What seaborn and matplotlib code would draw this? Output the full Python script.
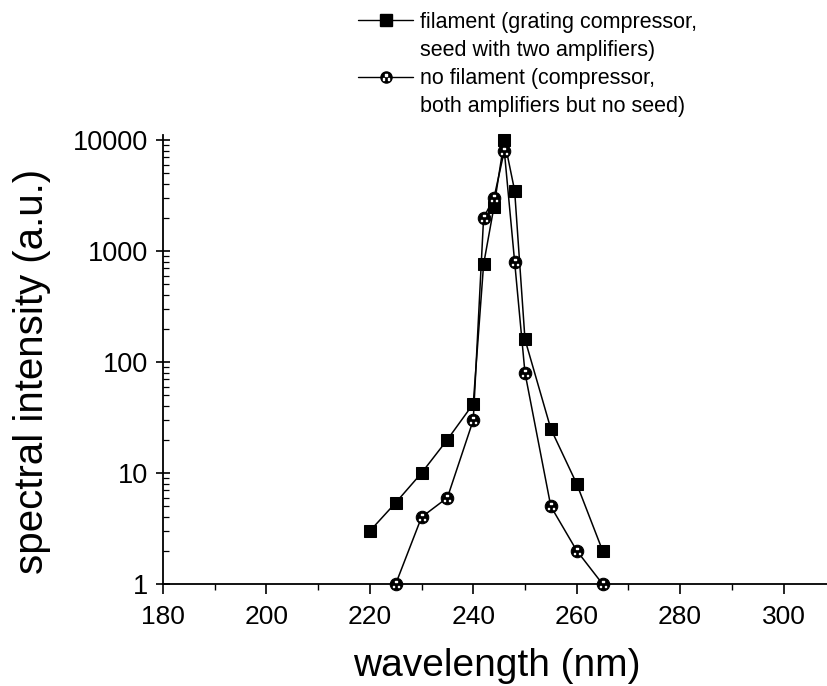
import matplotlib
matplotlib.use("Agg")
import matplotlib.pyplot as plt
import seaborn as sns
from matplotlib.lines import Line2D
from matplotlib.ticker import LogLocator, MultipleLocator, FuncFormatter, NullFormatter

# ---- data ----
wl_fil = [220, 225, 230, 235, 240, 242, 244, 246, 248, 250, 255, 260, 265]
I_fil = [3, 5.4, 10, 20, 42, 760, 2500, 10000, 3500, 160, 25, 8, 2]
wl_nof = [225, 230, 235, 240, 242, 244, 246, 248, 250, 255, 260, 265]
I_nof = [1, 4, 6, 30, 2000, 3000, 8000, 800, 80, 5, 2, 1]

label_fil = ["filament (grating compressor,", "seed with two amplifiers)"]
label_nof = ["no filament (compressor,", "both amplifiers but no seed)"]
x_ticks = [180, 200, 220, 240, 260, 280, 300]
y_ticks = [1, 10, 100, 1000, 10000]

sns.set_style("ticks")
plt.rcParams["font.family"] = ["Liberation Sans", "DejaVu Sans"]
plt.rcParams["text.color"] = "black"

fig = plt.figure(figsize=(8.28, 6.86), dpi=100)
ax = fig.add_axes([163 / 828, 102 / 686, 665 / 828, 449 / 686])

sns.lineplot(x=wl_fil, y=I_fil, ax=ax, color="black", lw=1.1, marker="s",
             markersize=9, markerfacecolor="black", markeredgecolor="black",
             clip_on=False, legend=False, zorder=3)
sns.lineplot(x=wl_nof, y=I_nof, ax=ax, color="black", lw=1.1, marker="o",
             markersize=9, markerfacecolor="black", markeredgecolor="black",
             clip_on=False, legend=False, zorder=3)
ax.plot(wl_nof, I_nof, ls="none", marker=r"$\therefore$", color="white",
        markersize=5, clip_on=False, zorder=4)

ax.set_yscale("log")
ax.set_ylim(1, 11100)
ax.set_xlim(180, 308.6)
ax.set_xticks(x_ticks)
ax.xaxis.set_minor_locator(MultipleLocator(10))
ax.set_yticks(y_ticks)
ax.yaxis.set_major_formatter(FuncFormatter(lambda v, p: f"{v:g}"))
ax.yaxis.set_minor_locator(LogLocator(base=10, subs=range(2, 10)))
ax.yaxis.set_minor_formatter(NullFormatter())

sns.despine(ax=ax)
for s in ("left", "bottom"):
    ax.spines[s].set_linewidth(1.3)
    ax.spines[s].set_color("black")

ax.tick_params(axis="x", which="major", direction="out", length=7, width=1.2,
               pad=8, labelsize=19, color="black", labelcolor="black")
ax.tick_params(axis="x", which="minor", direction="out", length=4, width=1.0, color="black")
ax.tick_params(axis="y", which="major", direction="inout", length=10, width=1.2,
               pad=6, labelsize=19.5, color="black", labelcolor="black")
ax.tick_params(axis="y", which="minor", direction="in", length=4, width=0.9, color="black")

ax.set_xlabel("wavelength (nm)", fontsize=28, color="black")
ax.set_ylabel("spectral intensity (a.u.)", fontsize=29, color="black")
ax.xaxis.set_label_coords((497 - 163) / 665, (584 - 648) / 449)
ax.yaxis.set_label_coords((51 - 163) / 665, 0.473)

h_fil = Line2D([], [], color="black", lw=1.0, marker="s", markersize=8,
               markerfacecolor="black", markeredgecolor="black")
h_nof_c = Line2D([], [], color="black", lw=1.0, marker="o", markersize=8,
                 markerfacecolor="black", markeredgecolor="black")
h_nof_d = Line2D([], [], ls="none", marker=r"$\therefore$", color="white", markersize=4.5)
blank = Line2D([], [], color="none", lw=0)

fig.legend([h_fil, blank, (h_nof_c, h_nof_d), blank],
           [label_fil[0], label_fil[1], label_nof[0], label_nof[1]],
           loc="upper left", bbox_to_anchor=(358 / 828, 1 - 12 / 686),
           frameon=False, fontsize=15.5, handlelength=2.56, handletextpad=0.33,
           labelspacing=0.33, borderpad=0, borderaxespad=0, labelcolor="black")

fig.savefig("out.png", dpi=100)
